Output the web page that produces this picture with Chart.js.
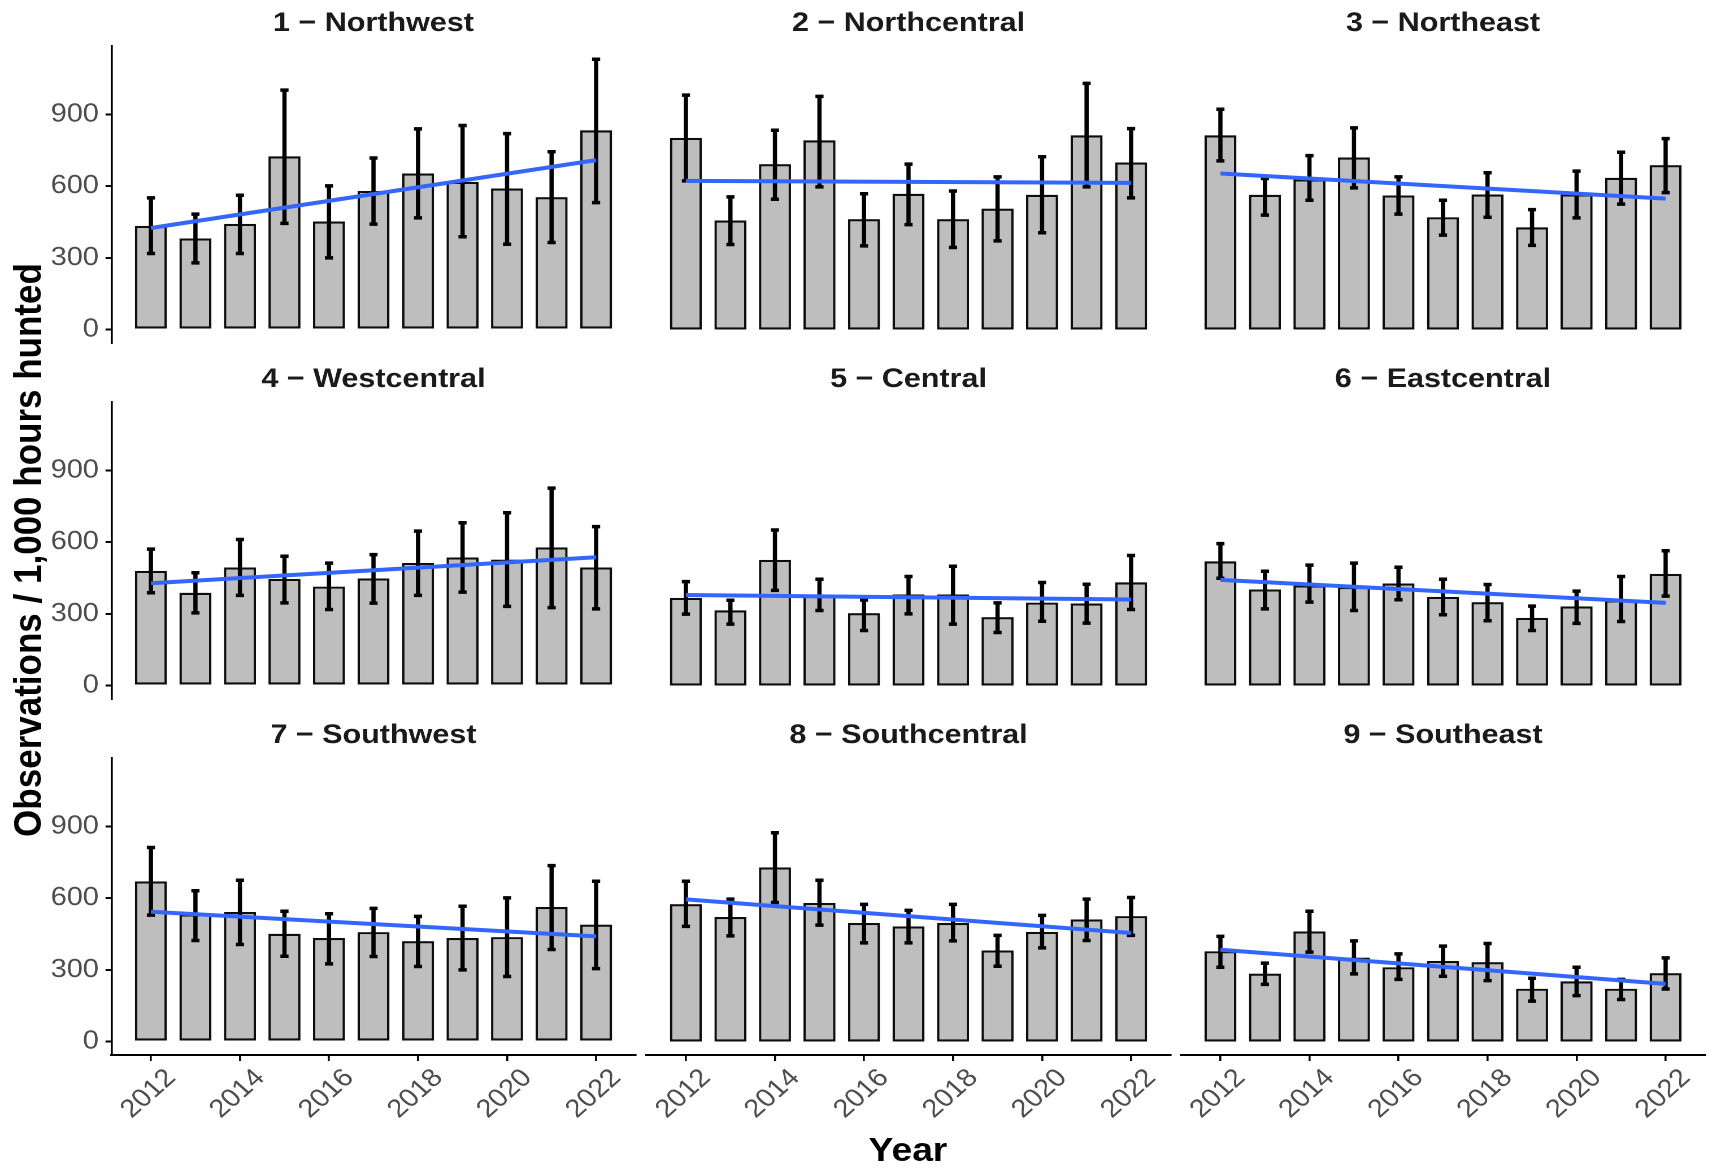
<!DOCTYPE html>
<html>
<head>
<meta charset="utf-8">
<script src="https://cdn.jsdelivr.net/npm/chart.js@4.4.1/dist/chart.umd.min.js"></script>
<style>
  html, body { margin: 0; padding: 0; background: #ffffff; }
  body { width: 1711px; height: 1172px; overflow: hidden; position: relative; }
  #stage { position: absolute; left: 0; top: 0; height: 1172px; transform-origin: 0 0; }
  #stage canvas { position: absolute; }
  .axis-title { position: absolute; font-family: "Liberation Sans", Arial, sans-serif; font-weight: bold;
                color: #000; white-space: nowrap; line-height: 1; }
  #ytitle { font-size: 35px; }
  #xtitle { font-size: 33px; }
</style>
</head>
<body>
<div id="stage">
  <div class="axis-title" id="ytitle">Observations / 1,000 hours hunted</div>
  <div class="axis-title" id="xtitle">Year</div>
</div>
<script>
// ---- data -------------------------------------------------------------
const YEARS = [2012, 2013, 2014, 2015, 2016, 2017, 2018, 2019, 2020, 2021, 2022];
const X_TICKS = [2012, 2014, 2016, 2018, 2020, 2022];
const Y_TICKS = [0, 300, 600, 900];
const REGIONS = ['1 \u2212 Northwest', '2 \u2212 Northcentral', '3 \u2212 Northeast',
                 '4 \u2212 Westcentral', '5 \u2212 Central', '6 \u2212 Eastcentral',
                 '7 \u2212 Southwest', '8 \u2212 Southcentral', '9 \u2212 Southeast'];

// observations per 1,000 hours hunted, one row per region
const OBS_RATE = [
  [434, 381, 442, 725, 452, 580, 653, 618, 590, 554, 834],
  [802, 456, 692, 792, 462, 568, 462, 506, 564, 813, 699],
  [813, 564, 628, 720, 561, 470, 565, 428, 566, 635, 688],
  [480, 388, 494, 446, 414, 448, 513, 536, 527, 578, 494],
  [367, 315, 526, 381, 303, 381, 381, 286, 347, 343, 432],
  [520, 402, 419, 412, 427, 371, 349, 283, 331, 356, 467],
  [670, 532, 542, 451, 433, 458, 420, 433, 437, 563, 489],
  [575, 521, 729, 580, 496, 482, 496, 381, 459, 511, 525],
  [378, 284, 461, 351, 311, 337, 332, 221, 252, 221, 286]
];
const CI_LOW = [
  [318, 279, 318, 444, 300, 441, 467, 388, 357, 364, 531],
  [622, 356, 545, 597, 350, 439, 343, 371, 405, 597, 551],
  [706, 479, 541, 593, 483, 395, 470, 352, 467, 525, 573],
  [388, 304, 377, 346, 318, 345, 377, 391, 331, 326, 321],
  [299, 257, 398, 314, 230, 300, 257, 222, 269, 261, 318],
  [449, 321, 349, 314, 359, 296, 271, 230, 260, 268, 374],
  [529, 423, 406, 357, 325, 356, 314, 300, 272, 385, 305],
  [482, 442, 582, 487, 413, 413, 421, 315, 392, 423, 444],
  [311, 239, 374, 283, 260, 273, 255, 169, 192, 176, 220]
];
const CI_HIGH = [
  [551, 483, 562, 1002, 601, 718, 840, 854, 820, 744, 1131],
  [981, 555, 834, 976, 568, 692, 580, 639, 723, 1030, 841],
  [922, 632, 728, 844, 639, 541, 656, 502, 663, 742, 799],
  [571, 472, 611, 541, 512, 548, 646, 681, 723, 826, 665],
  [435, 357, 651, 445, 358, 456, 499, 346, 431, 424, 544],
  [594, 478, 504, 512, 495, 445, 423, 332, 395, 456, 564],
  [812, 631, 675, 545, 535, 557, 524, 566, 601, 736, 671],
  [671, 596, 874, 675, 574, 549, 574, 444, 528, 596, 603],
  [440, 328, 545, 421, 367, 399, 410, 265, 311, 260, 350]
];
// fitted linear trend at the first and last year
const TREND_START = [425, 622, 653, 428, 379, 442, 543, 595, 384];
const TREND_END   = [709, 614, 548, 537, 360, 346, 440, 454, 241];

// ---- layout -----------------------------------------------------------
const STRETCH = 1.13;                       // horizontal scale of the whole figure
const STAGE_W = 1711 / STRETCH;
const PLOT_LEFT = [111.5, 646.5, 1181].map(v => v / STRETCH);
const PLOT_W = 524 / STRETCH;
const ZERO_Y = [329.5, 685.5, 1041.5];      // pixel row of y = 0 in each facet row
const TITLE_MID = [23.7, 379.7, 735.7];
const PX_PER_UNIT = 71.67 / 300;
const BAR_WIDTH = 0.7;                      // in years

const FONT = '"Liberation Sans", Arial, Helvetica, sans-serif';
Chart.defaults.font.family = FONT;

const stage = document.getElementById('stage');
stage.style.width = STAGE_W + 'px';
stage.style.transform = 'scaleX(' + STRETCH + ')';

// shared scale limits (5% expansion around the data range)
const hiMax = Math.max(...CI_HIGH.flat());
const Y_MIN = -0.05 * hiMax;
const Y_MAX = 1.05 * hiMax;
const xLo = YEARS[0] - BAR_WIDTH / 2, xHi = YEARS[YEARS.length - 1] + BAR_WIDTH / 2;
const X_MIN = xLo - 0.05 * (xHi - xLo), X_MAX = xHi + 0.05 * (xHi - xLo);

function zeroPad(s) { s.paddingLeft = 0; s.paddingRight = 0; s.paddingTop = 0; s.paddingBottom = 0; }

function buildPanel(i) {
  const r = Math.floor(i / 3), c = i % 3;
  const showY = c === 0, showX = r === 2;
  const plotL = PLOT_LEFT[c];
  const plotT = ZERO_Y[r] - Y_MAX * PX_PER_UNIT;
  const plotH = (Y_MAX - Y_MIN) * PX_PER_UNIT;
  const mL = showY ? 100 : 45, mR = 45, mT = 46, mB = showX ? 95 : 10;
  const cl = Math.floor(plotL - mL), ct = Math.floor(plotT - mT);
  const cw = Math.ceil(plotL + PLOT_W + mR) - cl;
  const ch = Math.ceil(plotT + plotH + mB) - ct;
  const padL = plotL - cl, padT = plotT - ct;
  const padR = cw - padL - PLOT_W, padB = ch - padT - plotH;
  const titleLine = 27 * 1.2;
  const tPadTop = TITLE_MID[r] - ct - titleLine / 2;
  const tPadBottom = padT - titleLine - tPadTop;

  const canvas = document.createElement('canvas');
  canvas.width = cw; canvas.height = ch;
  canvas.style.left = cl + 'px'; canvas.style.top = ct + 'px';
  canvas.style.width = cw + 'px'; canvas.style.height = ch + 'px';
  stage.appendChild(canvas);

  const bars = YEARS.map((y, k) => ({x: y, y: OBS_RATE[i][k]}));
  const whiskers = YEARS.map((y, k) => ({x: y, y: [CI_LOW[i][k], CI_HIGH[i][k]]}));
  const caps = [];
  YEARS.forEach((y, k) => { caps.push({x: y, y: CI_HIGH[i][k]}); caps.push({x: y, y: CI_LOW[i][k]}); });
  const trend = [{x: YEARS[0], y: TREND_START[i]}, {x: YEARS[YEARS.length - 1], y: TREND_END[i]}];

  new Chart(canvas, {
    type: 'bar',
    data: {
      datasets: [
        { type: 'line', data: trend, borderColor: '#3366FF', borderWidth: 4,
          pointRadius: 0, tension: 0, order: 0 },
        { type: 'line', data: caps, showLine: false, pointStyle: 'line', pointRadius: 3.6,
          pointBorderWidth: 3.5, pointBorderColor: '#000', pointBackgroundColor: '#000', order: 1 },
        { type: 'bar', data: whiskers, grouped: false, barThickness: 3.1,
          backgroundColor: '#000', borderWidth: 0, order: 1 },
        { type: 'bar', data: bars, grouped: false, barPercentage: 0.72, categoryPercentage: 1,
          backgroundColor: '#bebebe', borderColor: '#0d0d0d', borderWidth: 2.2,
          borderSkipped: false, order: 2 }
      ]
    },
    options: {
      responsive: false,
      animation: false,
      devicePixelRatio: 2,
      events: [],
      layout: { padding: { left: showY ? 0 : padL, right: padR, top: 0, bottom: showX ? 0 : padB } },
      plugins: {
        legend: { display: false },
        tooltip: { enabled: false },
        title: {
          display: true, text: REGIONS[i], fullSize: false, align: 'center',
          color: '#1a1a1a', font: { size: 27, weight: 'bold', lineHeight: 1.2 },
          padding: { top: tPadTop, bottom: tPadBottom }
        }
      },
      scales: {
        x: {
          type: 'linear', min: X_MIN, max: X_MAX, offset: false,
          display: showX,
          afterBuildTicks: s => { s.ticks = X_TICKS.map(v => ({value: v})); },
          afterFit: s => { s.height = showX ? padB : 0; zeroPad(s); },
          border: { display: true, color: '#000', width: 2 },
          grid: { display: true, drawOnChartArea: false, drawTicks: true, tickLength: 6,
                  color: '#000', lineWidth: 1.8, offset: false },
          ticks: { autoSkip: false, minRotation: 45, maxRotation: 45, padding: 2, labelOffset: 18,
                   color: '#4d4d4d', font: { size: 25.5 }, callback: v => String(v) }
        },
        y: {
          type: 'linear', min: Y_MIN, max: Y_MAX,
          display: showY,
          afterBuildTicks: s => { s.ticks = Y_TICKS.map(v => ({value: v})); },
          afterFit: s => { s.width = showY ? padL : 0; zeroPad(s); },
          border: { display: true, color: '#000', width: 1.8 },
          grid: { display: true, drawOnChartArea: false, drawTicks: true, tickLength: 5.3,
                  color: '#000', lineWidth: 2 },
          ticks: { padding: 5.9, color: '#4d4d4d', font: { size: 25.5 }, callback: v => String(v) }
        }
      }
    }
  });
}

for (let i = 0; i < REGIONS.length; i++) buildPanel(i);

// shared axis titles
const yt = document.getElementById('ytitle');
yt.style.left = (27 / STRETCH) + 'px';
yt.style.top = '550px';
yt.style.transform = 'translate(-50%, -50%) rotate(-90deg)';
const xt = document.getElementById('xtitle');
xt.style.left = (908 / STRETCH) + 'px';
xt.style.top = '1149px';
xt.style.transform = 'translate(-50%, -50%)';
</script>
</body>
</html>
